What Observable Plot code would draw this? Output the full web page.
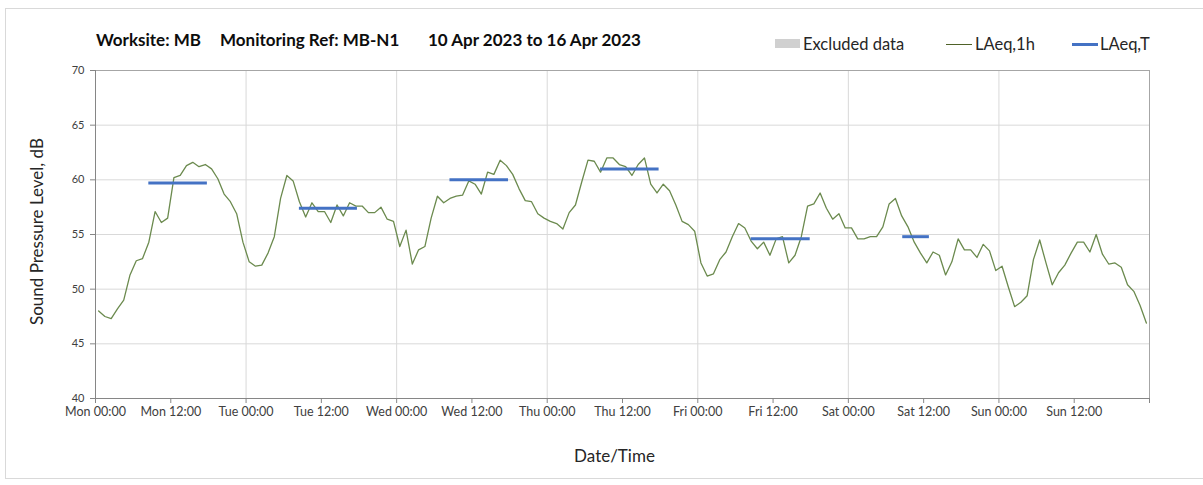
<!DOCTYPE html>
<html>
<head>
<meta charset="utf-8">
<script src="https://cdn.jsdelivr.net/npm/d3@7"></script>
<script src="https://cdn.jsdelivr.net/npm/@observablehq/plot@0.6"></script>
<style>
  html, body { margin: 0; padding: 0; background: #ffffff; }
  #wrap { position: relative; width: 1203px; height: 485px; overflow: hidden; font-family: Lato, "Open Sans", sans-serif; }
  #border { position: absolute; left: 5px; top: 8px; width: 1200px; height: 471px; border: 1px solid #d9d9d9; box-sizing: border-box; pointer-events: none; }
  #header { position: relative; height: 62px; }
  .title { position: absolute; top: 30px; font-weight: bold; font-size: 17px; line-height: 20px; color: #0d0d0d; white-space: nowrap; }
  .leg { position: absolute; top: 34px; font-size: 16.5px; color: #262626; white-space: nowrap; line-height: 20px; }
  .sw { position: absolute; }
  #chart svg { display: block; }
</style>
</head>
<body>
<div id="wrap">
  <div id="border"></div>
  <div id="header"></div>
  <div id="chart"></div>
</div>
<script>
// ---- Data ----
const titleParts = ["Worksite: MB", "Monitoring Ref: MB-N1", "10 Apr 2023 to 16 Apr 2023"];
const legendLabels = ["Excluded data", "LAeq,1h", "LAeq,T"];

const seriesStart = "2023-04-10T00:30:00Z"; // first hourly value
const laeq1h = [
  48.0, 47.5, 47.3, 48.2, 49.0, 51.3, 52.6, 52.8, 54.3, 57.1, 56.1, 56.5,
  60.2, 60.4, 61.3, 61.6, 61.2, 61.4, 61.0, 60.1, 58.7, 58.0, 56.9, 54.3,
  52.5, 52.1, 52.2, 53.3, 54.8, 58.3, 60.4, 59.9, 58.0, 56.6, 57.9, 57.1,
  57.1, 56.1, 57.7, 56.7, 57.9, 57.6, 57.6, 57.0, 57.0, 57.5, 56.4, 56.2,
  53.9, 55.4, 52.3, 53.6, 53.9, 56.5, 58.5, 57.9, 58.3, 58.5, 58.6, 59.9,
  59.6, 58.7, 60.7, 60.5, 61.8, 61.3, 60.5, 59.2, 58.1, 58.0, 56.9, 56.5,
  56.2, 56.0, 55.5, 57.0, 57.7, 59.8, 61.8, 61.7, 60.7, 62.0, 62.0, 61.4,
  61.2, 60.4, 61.4, 62.0, 59.6, 58.8, 59.6, 59.0, 57.7, 56.2, 55.9, 55.3,
  52.4, 51.2, 51.4, 52.7, 53.4, 54.8, 56.0, 55.6, 54.4, 53.7, 54.3, 53.1,
  54.6, 54.8, 52.4, 53.1, 54.8, 57.6, 57.8, 58.8, 57.4, 56.4, 56.9, 55.6,
  55.6, 54.6, 54.6, 54.8, 54.8, 55.7, 57.8, 58.3, 56.7, 55.7, 54.3, 53.3,
  52.4, 53.4, 53.1, 51.3, 52.5, 54.6, 53.6, 53.6, 52.9, 54.1, 53.5, 51.7,
  52.1, 50.2, 48.4, 48.8, 49.4, 52.7, 54.5, 52.4, 50.4, 51.5, 52.2, 53.3,
  54.3, 54.3, 53.4, 55.0, 53.2, 52.3, 52.4, 52.0, 50.4, 49.8, 48.5, 46.9
];

const periodStart = ["2023-04-10T08:30Z", "2023-04-11T08:30Z", "2023-04-12T08:30Z", "2023-04-13T08:30Z", "2023-04-14T08:30Z", "2023-04-15T08:40Z"];
const periodEnd   = ["2023-04-10T17:50Z", "2023-04-11T17:45Z", "2023-04-12T17:50Z", "2023-04-13T17:50Z", "2023-04-14T17:55Z", "2023-04-15T12:55Z"];
const laeqT       = [59.7, 57.4, 60.0, 61.0, 54.6, 54.8];

const yTicks = [40, 45, 50, 55, 60, 65, 70];
const xDomain = ["2023-04-10T00:00Z", "2023-04-17T00:00Z"];

// ---- Build tables ----
const t0 = new Date(seriesStart);
const hourly = laeq1h.map((v, i) => ({ t: d3.utcHour.offset(t0, i), v }));
const periods = laeqT.map((v, i) => ({ x1: new Date(periodStart[i]), x2: new Date(periodEnd[i]), v }));
const xd = xDomain.map(d => new Date(d));
const dayTicks = d3.utcDay.range(xd[0], d3.utcDay.offset(xd[1], 1));
const halfDayTicks = d3.utcHour.every(12).range(xd[0], d3.utcHour.offset(xd[1], 1));
const fmt = d => (+d >= +xd[1] ? "" : d3.utcFormat("%a %H:%M")(d));

// ---- Header (title + legend) ----
const header = document.getElementById("header");
const titleLefts = [96, 220, 428];
titleParts.forEach((s, i) => {
  const el = document.createElement("div");
  el.className = "title";
  el.style.left = titleLefts[i] + "px";
  el.textContent = s;
  header.appendChild(el);
});
function addLeg(swLeft, swStyle, textLeft, label) {
  const sw = document.createElement("div");
  sw.className = "sw";
  sw.style.left = swLeft + "px";
  Object.assign(sw.style, swStyle);
  header.appendChild(sw);
  const t = document.createElement("div");
  t.className = "leg";
  t.style.left = textLeft + "px";
  t.textContent = label;
  header.appendChild(t);
}
addLeg(775, { top: "39px", width: "25px", height: "9px", background: "#d0d0d0" }, 803, legendLabels[0]);
addLeg(946, { top: "43.5px", width: "26px", height: "1.3px", background: "#4f6228" }, 975, legendLabels[1]);
addLeg(1072, { top: "42.5px", width: "26px", height: "3px", background: "#4472c4" }, 1100, legendLabels[2]);

// ---- Chart ----
const chart = Plot.plot({
  width: 1203,
  height: 423,
  marginTop: 8,
  marginBottom: 87,
  marginLeft: 95,
  marginRight: 54,
  style: { fontFamily: "Lato, 'Open Sans', sans-serif", color: "#404040", background: "transparent" },
  x: { type: "utc", domain: xd },
  y: { domain: [40, 70] },
  marks: [
    Plot.gridY(yTicks, { stroke: "#d9d9d9", strokeOpacity: 1 }),
    Plot.gridX(dayTicks, { stroke: "#d9d9d9", strokeOpacity: 1 }),
    Plot.ruleY([70], { stroke: "#a6a6a6" }),
    Plot.ruleX([xd[1]], { stroke: "#a6a6a6" }),
    Plot.ruleX([xd[0]], { stroke: "#868686" }),
    Plot.ruleY([40], { stroke: "#868686" }),
    Plot.axisY(yTicks, { tickSize: 5, tickPadding: 6, fontSize: 11, label: null, stroke: "#868686", fill: "#404040" }),
    Plot.axisX(halfDayTicks, { tickSize: 5, tickPadding: 4, fontSize: 12.5, label: null, tickFormat: fmt, stroke: "#868686", fill: "#404040" }),
    Plot.text(["Sound Pressure Level, dB"], { frameAnchor: "left", textAnchor: "middle", lineAnchor: "middle", rotate: -90, dx: -58, dy: -3, fontSize: 17, fill: "#262626" }),
    Plot.text(["Date/Time"], { frameAnchor: "bottom", textAnchor: "middle", lineAnchor: "middle", dx: -8, dy: 58, fontSize: 17, fill: "#262626" }),
    Plot.line(hourly, { x: "t", y: "v", stroke: "#6b8a4e", strokeWidth: 1.3 }),
    Plot.ruleY(periods, { y: "v", x1: "x1", x2: "x2", stroke: "#4472c4", strokeWidth: 3 })
  ]
});
document.getElementById("chart").appendChild(chart);
</script>
</body>
</html>
